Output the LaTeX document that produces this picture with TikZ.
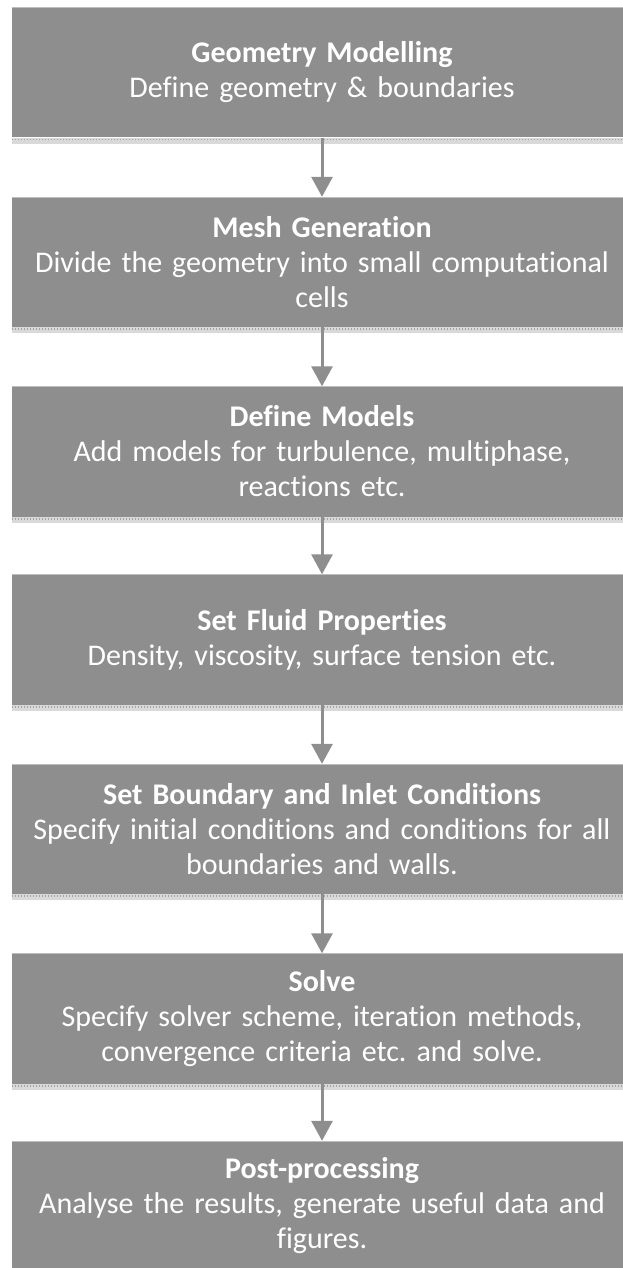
\documentclass[tikz,border=0pt]{standalone}
\usepackage{fontspec}
\setmainfont[Ligatures=NoCommon]{Carlito}
\usetikzlibrary{arrows.meta}
\definecolor{boxgray}{HTML}{8E8E8E}
\definecolor{bandgray}{HTML}{D9D9D9}
\definecolor{toplight}{HTML}{BDBDBD}
\tikzset{
  x=1pt, y=-1pt,
  stepbox/.style={fill=boxgray, text=white, minimum width=620pt, minimum height=130pt,
    inner sep=0pt, align=center, text width=606pt,
    font=\fontsize{30}{35}\selectfont},
  flow/.style={draw=boxgray, line width=3pt, -{Triangle[width=21pt,length=20pt]}},
}
\newcommand{\band}[1]{%
  \fill[bandgray] ([yshift=0pt]#1.south west) rectangle ([yshift=-6pt]#1.south east);
  \draw[boxgray!80, line width=1.6pt, dash pattern=on 1.5pt off 1.5pt] ([yshift=-2pt]#1.south west) -- ([yshift=-2pt]#1.south east);
  \draw[toplight, line width=1pt] ([yshift=-0.5pt]#1.north west) -- ([yshift=-0.5pt]#1.north east);
}
\begin{document}
\begin{tikzpicture}
\useasboundingbox (0,0) rectangle (623,1268);
\clip (0,0) rectangle (623,1268);
\node[stepbox] (b1) at (322,72.5) {\textbf{Geometry Modelling}\\Define geometry \& boundaries};
\node[stepbox] (b2) at (322,262) {\textbf{Mesh Generation}\\Divide the geometry into small computational\\cells};
\node[stepbox] (b3) at (322,451.5) {\textbf{Define Models}\\Add models for turbulence, multiphase,\\reactions etc.};
\node[stepbox] (b4) at (322,639.5) {\textbf{Set Fluid Properties}\\Density, viscosity, surface tension etc.};
\node[stepbox] (b5) at (322,829) {\textbf{Set Boundary and Inlet Conditions}\\Specify initial conditions and conditions for all\\boundaries and walls.};
\node[stepbox] (b6) at (322,1018.5) {\textbf{Solve}\\Specify solver scheme, iteration methods,\\convergence criteria etc.\ and solve.};
\node[stepbox] (b7) at (322,1206) {\textbf{Post-processing}\\Analyse the results, generate useful data and\\figures.};
\foreach \b in {b1,b2,b3,b4,b5,b6,b7}{\band{\b}}
\draw[flow] (b1.south) -- (b2.north);
\draw[flow] (b2.south) -- (b3.north);
\draw[flow] (b3.south) -- (b4.north);
\draw[flow] (b4.south) -- (b5.north);
\draw[flow] (b5.south) -- (b6.north);
\draw[flow] (b6.south) -- (b7.north);
\end{tikzpicture}
\end{document}
